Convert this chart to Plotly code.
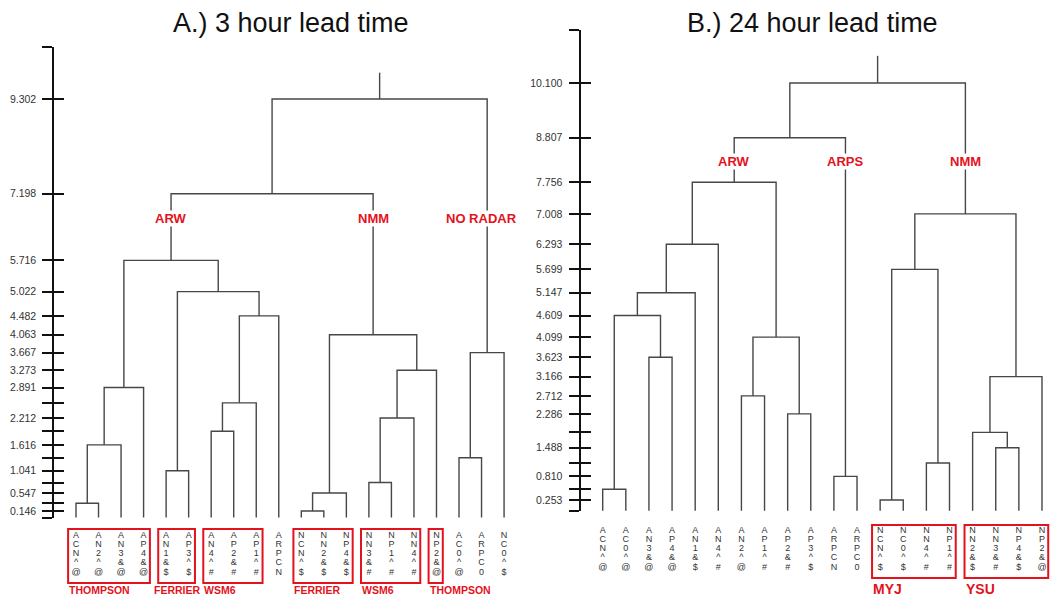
import plotly.graph_objects as go

W, H = 1056, 596

# ------------------------------------------------------------------ data
# Panel A (3 hour lead time)
left_leaves = ["ACN^@", "AN2^@", "AN3&@", "AP4&@", "AN1&$", "AP3^$", "AN4^#", "AP2&#", "AP1^#", "ARPCN",
               "NCN^$", "NN2&$", "NP4&$", "NN3&#", "NP1^#", "NN4^#", "NP2&@", "AC0^@", "ARPC0", "NC0^$"]
# merge i creates cluster id 20+i
left_merges = [(0, 1), (20, 2), (21, 3), (4, 5), (6, 7), (24, 8), (25, 9), (23, 26), (22, 27),
               (10, 11), (29, 12), (13, 14), (31, 15), (32, 16), (30, 33), (17, 18), (35, 19),
               (28, 34), (37, 36)]
left_heights = [0.32, 1.616, 2.891, 1.041, 1.92, 2.55, 4.482, 5.022, 5.716,
                0.146, 0.547, 0.78, 2.212, 3.273, 4.063, 1.33, 3.667,
                7.198, 9.302]
left_root_top = 9.887
left_tick_labels = ["0.146", "0.547", "1.041", "1.616", "2.212", "2.891", "3.273", "3.667",
                    "4.063", "4.482", "5.022", "5.716", "7.198", "9.302"]
left_groups = [("THOMPSON", 0, 3), ("FERRIER", 4, 5), ("WSM6", 6, 8),
               ("FERRIER", 10, 12), ("WSM6", 13, 15), ("THOMPSON", 16, 16)]
left_clusters = [("ARW", 28), ("NMM", 34), ("NO RADAR", 36)]

# Panel B (24 hour lead time)
right_leaves = ["ACN^@", "AC0^@", "AN3&@", "AP4&@", "AN1&$", "AN4^#", "AN2^@", "AP1^#", "AP2&#", "AP3^$",
                "ARPCN", "ARPC0", "NCN^$", "NC0^$", "NN4^#", "NP1^#", "NN2&$", "NN3&#", "NP4&$", "NP2&@"]
right_merges = [(0, 1), (2, 3), (20, 21), (22, 4), (23, 5), (6, 7), (8, 9), (25, 26), (24, 27),
                (10, 11), (28, 29), (12, 13), (14, 15), (31, 32), (17, 18), (16, 34), (35, 19),
                (33, 36), (30, 37)]
right_heights = [0.505, 3.623, 4.609, 5.147, 6.293, 2.712, 2.286, 4.099, 7.756,
                 0.810, 8.807, 0.253, 1.126, 5.699, 1.488, 1.85, 3.166,
                 7.008, 10.100]
right_root_top = 10.74
right_tick_labels = ["0.253", "0.810", "1.488", "2.286", "2.712", "3.166", "3.623", "4.099",
                     "4.609", "5.147", "5.699", "6.293", "7.008", "7.756", "8.807", "10.100"]
right_groups = [("MYJ", 12, 15), ("YSU", 16, 19)]
right_clusters = [("ARW", 28), ("ARPS", 29), ("NMM", 37)]

# ------------------------------------------------------------------ layout calibration
RED = "#e3121c"
LINE = "#474747"
SANS = "Liberation Sans, Arial, sans-serif"

panels = [
    dict(name="A", leaves=left_leaves, merges=left_merges, heights=left_heights, root=left_root_top,
         labels=left_tick_labels, groups=left_groups, clusters=left_clusters,
         dom=(0.0, 540 / W), leaf0=76.0, step=22.53, zero=517.6, unit=45.0,
         axis_x=53.3, axis_top=46.5, row0=535.7, rowstep=9.15, box=(529, 583),
         grp_y=590, grp_size=10.5, grp_dx=(-0.35, 0.28), grp_shift={1: -5},
         clus_y=218.8, clus_size=13,
         title="A.) 3 hour lead time", title_x=291, title_size=27),
    dict(name="B", leaves=right_leaves, merges=right_merges, heights=right_heights, root=right_root_top,
         labels=right_tick_labels, groups=right_groups, clusters=right_clusters,
         dom=(540 / W, 1.0), leaf0=602.7, step=23.12, zero=510.7, unit=42.35,
         axis_x=579.5, axis_top=30.0, row0=530.7, rowstep=9.15, box=(525, 578),
         grp_y=589, grp_size=14, grp_dx=(-0.35, 0.27), grp_shift={},
         clus_y=161.5, clus_size=13,
         title="B.) 24 hour lead time", title_x=812, title_size=27),
]

fig = go.Figure()
layout = dict(width=W, height=H, margin=dict(l=0, r=0, t=0, b=0),
              paper_bgcolor="white", plot_bgcolor="rgba(0,0,0,0)", showlegend=False)
shapes, annotations = [], []

for k, p in enumerate(panels):
    xa = "x" if k == 0 else "x2"
    ya = "y" if k == 0 else "y2"
    xn = "xaxis" if k == 0 else "xaxis2"
    yn = "yaxis" if k == 0 else "yaxis2"
    d0, d1 = p["dom"]
    xr = [(d0 * W - p["leaf0"]) / p["step"], (d1 * W - p["leaf0"]) / p["step"]]
    yr = [-(H - p["zero"]) / p["unit"], p["zero"] / p["unit"]]
    layout[xn] = dict(domain=[d0, d1], range=xr, visible=False, anchor=ya, fixedrange=True)
    layout[yn] = dict(domain=[0, 1], range=yr, visible=False, anchor=xa, fixedrange=True)

    n = len(p["leaves"])
    pos = {i: float(i) for i in range(n)}
    hgt = {i: 0.0 for i in range(n)}
    xs, ys = [], []
    for m, ((a, b), h) in enumerate(zip(p["merges"], p["heights"])):
        xs += [pos[a], pos[a], pos[b], pos[b], None]
        ys += [hgt[a], h, h, hgt[b], None]
        pos[n + m] = (pos[a] + pos[b]) / 2
        hgt[n + m] = h
    root = n + len(p["merges"]) - 1
    xs += [pos[root], pos[root], None]
    ys += [hgt[root], p["root"], None]
    fig.add_trace(go.Scatter(x=xs, y=ys, mode="lines", line=dict(color=LINE, width=1.4),
                             xaxis=xa, yaxis=ya, hoverinfo="skip"))

    # leaf labels, one character per row
    tx, ty, tt = [], [], []
    for i, lab in enumerate(p["leaves"]):
        for r, ch in enumerate(lab):
            tx.append(i)
            ty.append((p["zero"] - (p["row0"] + r * p["rowstep"])) / p["unit"])
            tt.append(ch)
    fig.add_trace(go.Scatter(x=tx, y=ty, text=tt, mode="text", textposition="middle center",
                             textfont=dict(family=SANS, size=9, color="#333333"),
                             xaxis=xa, yaxis=ya, hoverinfo="skip", cliponaxis=False))

    # visible distance axis (ticks on both sides)
    top = (p["zero"] - p["axis_top"]) / p["unit"]
    adom = [(H - p["zero"]) / H, (H - p["axis_top"]) / H]
    tickvals = [0.0] + sorted(p["heights"]) + [top]
    ticktext = [("%.3f" % v) if ("%.3f" % v) in p["labels"] else "" for v in tickvals]
    ticktext[0] = ""
    ticktext[-1] = ""
    for j, side in enumerate(["outside", "inside"]):
        an = "y%d" % (3 + 2 * k + j)
        layout["yaxis%d" % (3 + 2 * k + j)] = dict(
            domain=adom, range=[0, top], anchor="free", position=p["axis_x"] / W,
            showline=(j == 0), linecolor="#111111", linewidth=2,
            ticks=side, ticklen=10, tickwidth=1.8, tickcolor="#111111",
            tickvals=tickvals, ticktext=ticktext, showticklabels=(j == 0),
            tickfont=dict(family=SANS, size=10.5, color="#333333"),
            ticklabelstandoff=4, showgrid=False, zeroline=False, fixedrange=True)
        fig.add_trace(go.Scatter(x=[0, 0], y=[0, top], mode="none", xaxis=xa, yaxis=an,
                                 hoverinfo="skip"))

    # red group boxes and names
    for g, (name, i0, i1) in enumerate(p["groups"]):
        x0 = i0 + p["grp_dx"][0]
        x1 = i1 + p["grp_dx"][1]
        shapes.append(dict(type="rect", xref=xa, yref="paper", x0=x0, x1=x1,
                           y0=1 - p["box"][1] / H, y1=1 - p["box"][0] / H,
                           line=dict(color=RED, width=2), fillcolor="rgba(0,0,0,0)"))
        annotations.append(dict(text="<b>%s</b>" % name, xref=xa, yref="paper", x=x0,
                                y=1 - p["grp_y"] / H, xanchor="left", yanchor="middle",
                                showarrow=False, borderpad=0, xshift=p["grp_shift"].get(g, 0),
                                font=dict(family=SANS, size=p["grp_size"], color=RED)))

    # cluster names
    for name, node in p["clusters"]:
        annotations.append(dict(text="<b>%s</b>" % name, xref=xa, yref=ya, x=pos[node],
                                y=(p["zero"] - p["clus_y"]) / p["unit"], showarrow=False,
                                xanchor="center", yanchor="middle", bgcolor="white",
                                borderpad=0,
                                xshift=-6 if name == "NO RADAR" else 0,
                                font=dict(family=SANS, size=p["clus_size"], color=RED)))

    annotations.append(dict(text=p["title"], xref="paper", yref="paper", x=p["title_x"] / W,
                            y=1 - 23 / H, xanchor="center", yanchor="middle", showarrow=False,
                            font=dict(family=SANS, size=p["title_size"], color="#111111")))

layout["shapes"] = shapes
layout["annotations"] = annotations
fig.update_layout(**layout)
fig.write_html("out.html")
